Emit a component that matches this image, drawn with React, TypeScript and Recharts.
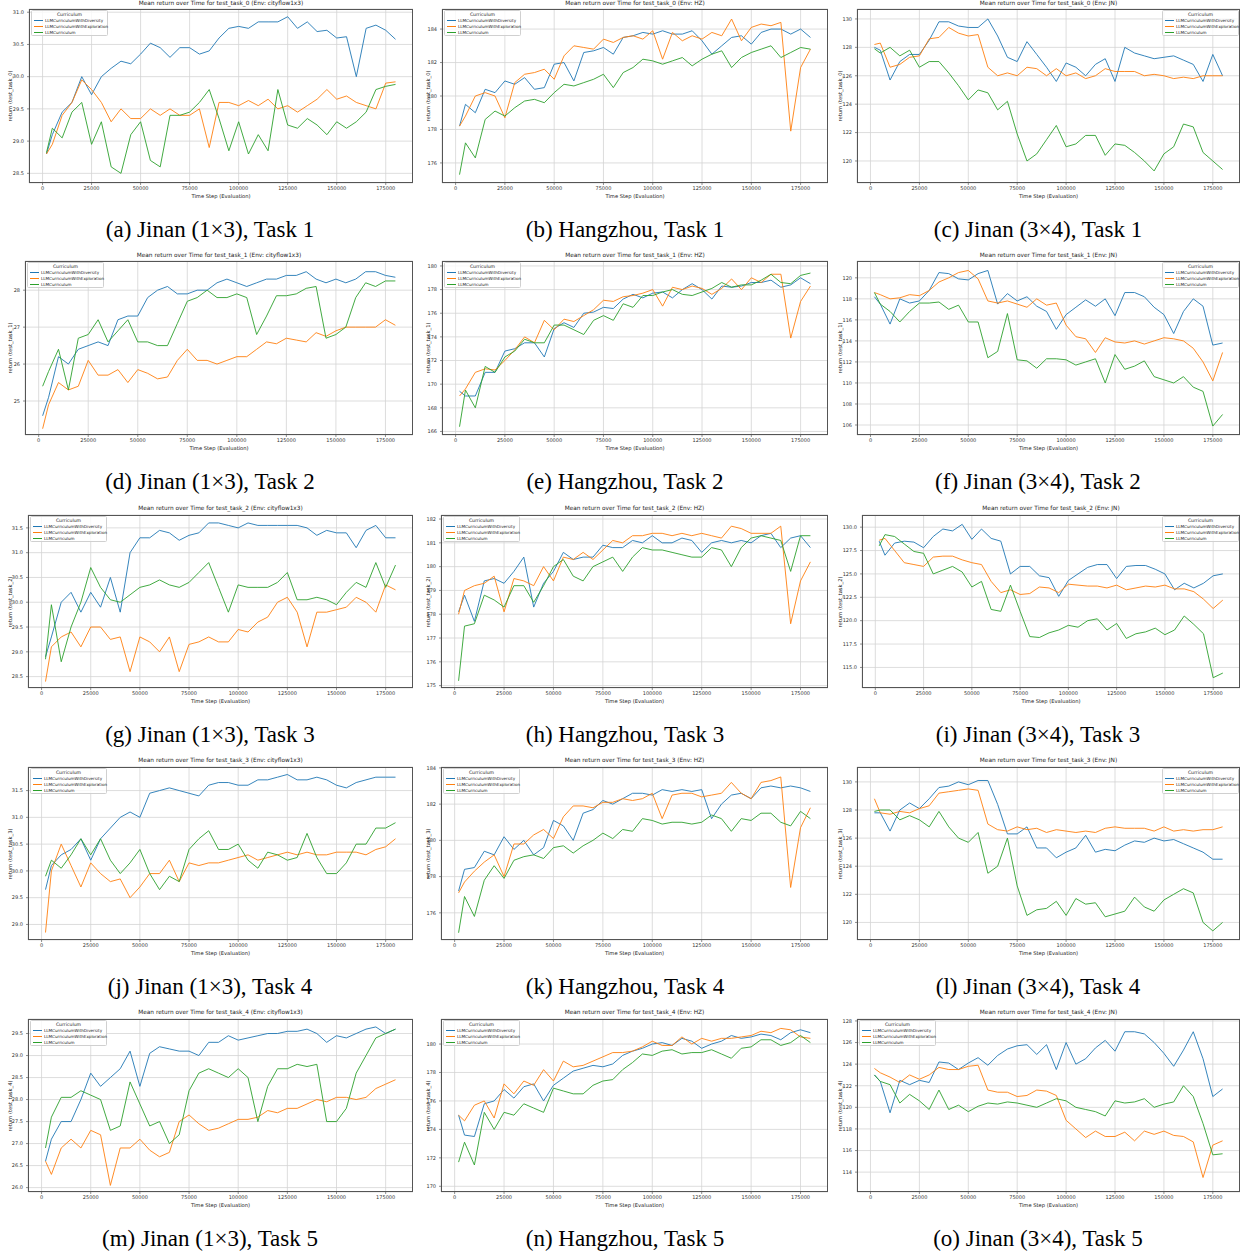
import React from 'react';
import { LineChart, Line, XAxis, YAxis, CartesianGrid } from 'recharts';

const steps = [2000, 5000, 10000, 15000, 20000, 25000, 30000, 35000, 40000, 45000, 50000, 55000, 60000, 65000, 70000, 75000, 80000, 85000, 90000, 95000, 100000, 105000, 110000, 115000, 120000, 125000, 130000, 135000, 140000, 145000, 150000, 155000, 160000, 165000, 170000, 175000, 180000];
const xTicks = [0, 25000, 50000, 75000, 100000, 125000, 150000, 175000];
const seriesNames = ['LLMCurriculumWithDiversity', 'LLMCurriculumWithExploration', 'LLMCurriculum'];
const seriesColors = ['#1f77b4', '#ff7f0e', '#2ca02c'];
const envNames = ['cityflow1x3', 'HZ', 'JN'];
const captions = [
  '(a) Jinan (1×3), Task 1', '(b) Hangzhou, Task 1', '(c) Jinan (3×4), Task 1',
  '(d) Jinan (1×3), Task 2', '(e) Hangzhou, Task 2', '(f) Jinan (3×4), Task 2',
  '(g) Jinan (1×3), Task 3', '(h) Hangzhou, Task 3', '(i) Jinan (3×4), Task 3',
  '(j) Jinan (1×3), Task 4', '(k) Hangzhou, Task 4', '(l) Jinan (3×4), Task 4',
  '(m) Jinan (1×3), Task 5', '(n) Hangzhou, Task 5', '(o) Jinan (3×4), Task 5',
];

// (a) Jinan 1x3 task 1
const aDiv = [28.8, 29.1, 29.45, 29.6, 30.0, 29.72, 30.0, 30.13, 30.24, 30.2, 30.35, 30.52, 30.45, 30.3, 30.45, 30.45, 30.35, 30.4, 30.6, 30.75, 30.78, 30.75, 30.85, 30.85, 30.85, 30.93, 30.75, 30.85, 30.7, 30.72, 30.6, 30.62, 30.0, 30.75, 30.8, 30.72, 30.58];
const aExp = [28.8, 28.95, 29.4, 29.6, 29.95, 29.8, 29.6, 29.3, 29.5, 29.35, 29.35, 29.5, 29.4, 29.5, 29.4, 29.4, 29.5, 28.9, 29.6, 29.6, 29.55, 29.63, 29.55, 29.65, 29.5, 29.55, 29.45, 29.55, 29.65, 29.8, 29.65, 29.7, 29.6, 29.55, 29.5, 29.9, 29.92];
const aCur = [28.82, 29.2, 29.05, 29.45, 29.6, 28.95, 29.3, 28.6, 28.5, 29.1, 29.3, 28.7, 28.6, 29.4, 29.4, 29.45, 29.6, 29.8, 29.35, 28.85, 29.3, 28.8, 29.1, 28.85, 29.8, 29.25, 29.2, 29.35, 29.25, 29.1, 29.3, 29.2, 29.3, 29.45, 29.8, 29.85, 29.88];
// (b) Hangzhou task 1
const bDiv = [178.2, 179.5, 179.0, 180.4, 180.2, 180.9, 180.7, 181.1, 180.4, 180.5, 181.9, 182.0, 180.9, 182.6, 182.7, 182.9, 182.5, 183.5, 183.6, 183.8, 183.7, 183.9, 183.7, 183.7, 183.9, 183.3, 182.5, 183.0, 183.5, 183.6, 183.1, 183.8, 184.0, 184.0, 183.7, 184.0, 183.5];
const bExp = [178.2, 178.8, 180.0, 180.2, 180.0, 178.7, 180.8, 181.3, 181.4, 181.6, 181.0, 182.4, 183.0, 182.9, 182.8, 183.4, 183.2, 183.5, 183.6, 183.4, 183.9, 182.2, 183.8, 183.3, 183.6, 183.4, 183.8, 183.6, 184.6, 183.3, 184.1, 184.3, 184.2, 184.4, 177.9, 181.7, 182.8];
const bCur = [175.3, 177.2, 176.3, 178.6, 179.1, 178.8, 179.3, 179.7, 179.8, 179.6, 180.2, 180.7, 180.6, 180.8, 181.0, 181.3, 180.5, 181.4, 181.7, 182.2, 182.1, 181.9, 182.1, 182.3, 181.8, 182.2, 182.5, 182.7, 181.7, 182.3, 182.6, 182.8, 183.0, 182.3, 182.6, 182.9, 182.8];
// (c) Jinan 3x4 task 1
const cDiv = [128.0, 127.8, 125.7, 127.0, 127.5, 127.5, 128.5, 129.8, 129.8, 129.5, 129.4, 129.4, 130.0, 128.8, 127.3, 127.0, 128.4, 127.5, 126.6, 125.6, 126.9, 126.6, 126.0, 126.8, 127.2, 125.6, 128.0, 127.6, 127.4, 127.2, 127.3, 127.4, 127.1, 126.8, 125.6, 127.5, 126.0];
const cExp = [128.2, 128.3, 126.6, 126.8, 127.3, 127.4, 128.6, 128.7, 129.4, 129.0, 128.8, 128.9, 126.6, 126.0, 126.2, 126.0, 126.6, 126.5, 126.0, 126.5, 126.0, 126.2, 125.8, 126.0, 126.5, 126.3, 126.3, 126.3, 126.0, 126.1, 126.0, 125.8, 125.9, 125.8, 126.0, 126.0, 126.0];
const cCur = [127.9, 127.6, 128.0, 127.4, 127.8, 126.6, 127.0, 127.0, 126.2, 125.3, 124.3, 125.0, 124.8, 123.6, 124.2, 121.9, 120.0, 120.5, 121.5, 122.5, 121.0, 121.2, 121.8, 121.8, 120.4, 121.2, 121.1, 120.6, 120.0, 119.3, 120.5, 121.0, 122.6, 122.4, 120.6, 120.0, 119.4];
// (d) Jinan 1x3 task 2
const dDiv = [24.6, 25.1, 26.2, 26.0, 26.4, 26.5, 26.6, 26.5, 27.2, 27.3, 27.3, 27.8, 28.0, 28.1, 27.9, 27.9, 28.0, 28.0, 28.2, 28.3, 28.2, 28.1, 28.2, 28.3, 28.3, 28.4, 28.4, 28.5, 28.3, 28.2, 28.3, 28.2, 28.3, 28.5, 28.5, 28.4, 28.35];
const dExp = [24.25, 24.9, 25.5, 25.3, 25.4, 26.1, 25.7, 25.7, 25.85, 25.5, 25.85, 25.75, 25.6, 25.65, 26.1, 26.4, 26.1, 26.1, 26.0, 26.1, 26.2, 26.2, 26.4, 26.6, 26.55, 26.7, 26.65, 26.6, 26.85, 26.75, 26.9, 27.0, 27.0, 27.0, 27.0, 27.2, 27.05];
const dCur = [25.4, 25.8, 26.4, 25.3, 26.7, 26.8, 27.2, 26.6, 26.9, 27.2, 26.6, 26.6, 26.5, 26.5, 27.1, 27.7, 27.8, 28.0, 27.8, 27.8, 27.9, 27.8, 26.8, 27.3, 27.85, 27.85, 27.9, 28.05, 28.1, 26.7, 26.8, 27.0, 27.8, 28.2, 28.1, 28.25, 28.25];
// (e) Hangzhou task 2
const eDiv = [169.4, 169.0, 169.0, 171.0, 171.0, 172.8, 173.0, 173.5, 173.5, 172.3, 174.7, 175.2, 174.8, 176.0, 176.1, 176.5, 176.4, 177.2, 177.6, 177.3, 177.7, 177.8, 177.3, 178.0, 178.5, 178.0, 177.2, 178.3, 178.2, 178.3, 178.6, 178.6, 178.8, 178.2, 178.4, 179.0, 178.5];
const eExp = [169.0, 169.6, 171.0, 171.3, 171.2, 172.0, 172.9, 174.0, 173.5, 175.4, 174.6, 175.5, 175.3, 175.8, 176.3, 177.1, 177.0, 177.4, 177.5, 177.7, 178.0, 176.6, 178.2, 178.0, 178.3, 178.1, 177.6, 178.1, 178.9, 178.0, 179.0, 178.6, 179.3, 179.3, 173.9, 177.0, 178.3];
const eCur = [166.4, 169.5, 168.0, 171.5, 171.0, 172.3, 172.8, 173.8, 173.5, 173.5, 175.0, 175.0, 174.6, 174.2, 175.4, 175.8, 175.4, 176.8, 176.5, 177.5, 177.5, 177.8, 178.0, 177.6, 177.5, 177.8, 178.1, 178.6, 178.2, 178.4, 178.4, 178.8, 179.3, 178.6, 178.5, 179.2, 179.4];
// (f) Jinan 3x4 task 2
const fDiv = [118.2, 117.5, 115.6, 118.0, 117.6, 117.8, 118.8, 120.5, 120.4, 119.9, 119.8, 120.4, 120.7, 117.5, 118.5, 117.8, 118.2, 117.3, 116.8, 115.1, 116.5, 117.2, 117.9, 117.3, 118.0, 116.4, 118.6, 118.6, 118.2, 117.2, 116.5, 114.7, 116.8, 118.0, 117.3, 113.6, 113.8];
const fExp = [118.6, 118.4, 118.0, 118.1, 118.4, 118.3, 118.8, 119.6, 120.0, 120.5, 120.7, 119.9, 117.8, 117.6, 117.8, 117.5, 117.2, 118.0, 117.4, 117.6, 115.5, 114.4, 114.2, 112.9, 114.3, 113.9, 113.8, 114.0, 113.7, 114.0, 114.3, 114.2, 114.0, 113.3, 112.0, 110.2, 112.9];
const fCur = [118.6, 117.5, 116.8, 115.8, 116.8, 117.6, 117.6, 117.7, 117.0, 117.4, 115.8, 115.8, 112.4, 113.0, 116.6, 112.2, 112.1, 111.4, 112.3, 112.3, 112.2, 111.7, 112.0, 112.3, 110.0, 112.7, 111.3, 111.6, 112.1, 110.6, 110.3, 110.0, 110.6, 109.6, 109.2, 105.9, 107.0];
// (g) Jinan 1x3 task 3
const gDiv = [28.9, 29.3, 30.0, 30.2, 29.8, 30.2, 29.9, 30.5, 29.8, 31.0, 31.3, 31.3, 31.45, 31.4, 31.25, 31.35, 31.4, 31.6, 31.6, 31.55, 31.5, 31.6, 31.55, 31.55, 31.55, 31.55, 31.55, 31.5, 31.35, 31.45, 31.4, 31.4, 31.1, 31.45, 31.55, 31.3, 31.3];
const gExp = [28.4, 29.1, 29.3, 29.4, 29.1, 29.5, 29.5, 29.25, 29.3, 28.6, 29.3, 29.2, 29.0, 29.3, 28.6, 29.15, 29.2, 29.3, 29.2, 29.2, 29.45, 29.4, 29.6, 29.7, 30.0, 30.1, 29.8, 29.1, 29.8, 29.8, 29.85, 29.9, 30.1, 30.0, 29.8, 30.35, 30.25];
const gCur = [28.85, 29.95, 28.8, 29.5, 30.0, 30.7, 30.3, 30.05, 30.0, 30.15, 30.3, 30.35, 30.45, 30.35, 30.3, 30.4, 30.6, 30.8, 30.3, 29.8, 30.35, 30.3, 30.3, 30.3, 30.4, 30.6, 30.05, 30.05, 30.1, 30.05, 29.95, 30.2, 30.4, 30.3, 30.8, 30.3, 30.75];
// (h) Hangzhou task 3
const hDiv = [178.1, 178.8, 177.7, 179.4, 179.5, 179.3, 179.8, 180.4, 178.3, 179.3, 179.8, 180.6, 180.3, 180.4, 180.4, 180.9, 180.8, 180.8, 181.1, 181.0, 181.3, 181.0, 181.0, 181.2, 181.1, 180.6, 181.0, 181.1, 181.0, 181.1, 181.0, 181.3, 181.4, 180.8, 181.2, 181.3, 180.8];
const hExp = [178.0, 179.0, 179.2, 179.3, 179.6, 178.1, 179.5, 179.4, 179.2, 180.0, 179.4, 180.4, 180.3, 180.6, 180.3, 180.7, 181.1, 181.0, 181.3, 181.3, 181.4, 181.4, 181.3, 181.4, 181.3, 181.4, 181.3, 181.2, 181.7, 181.6, 181.4, 181.4, 181.4, 181.7, 177.6, 179.4, 180.2];
const hCur = [175.2, 177.5, 177.6, 178.8, 178.6, 178.3, 179.2, 179.2, 178.5, 179.2, 180.0, 180.3, 179.6, 179.4, 180.0, 180.2, 180.4, 179.8, 180.4, 180.8, 180.7, 180.7, 180.6, 180.5, 180.4, 180.4, 180.8, 180.7, 180.0, 180.8, 181.2, 181.3, 181.2, 181.1, 179.8, 181.3, 181.3];
// (i) Jinan 3x4 task 3
const iDiv = [128.5, 127.0, 128.3, 128.5, 128.4, 127.8, 129.0, 129.8, 129.6, 130.3, 128.7, 129.8, 128.8, 128.5, 125.0, 125.8, 125.8, 124.8, 124.6, 122.6, 124.3, 125.0, 125.7, 126.0, 126.0, 124.5, 125.8, 125.9, 125.9, 125.5, 125.0, 123.3, 124.0, 123.5, 124.0, 124.8, 125.0];
const iExp = [128.6, 128.8, 127.5, 126.2, 126.0, 125.8, 126.8, 126.9, 126.9, 126.5, 126.2, 126.0, 124.2, 123.0, 123.3, 122.8, 122.9, 123.6, 123.5, 123.0, 123.9, 123.8, 123.7, 123.7, 123.5, 123.8, 123.3, 123.5, 123.7, 123.6, 123.8, 123.4, 123.4, 123.1, 122.3, 121.3, 122.2];
const iCur = [128.0, 129.2, 129.0, 128.2, 127.4, 127.2, 125.0, 125.4, 125.8, 125.2, 123.6, 124.2, 121.2, 121.0, 123.8, 121.0, 118.3, 118.2, 118.7, 119.0, 119.5, 119.3, 120.0, 120.2, 119.0, 119.7, 118.1, 118.6, 118.8, 119.2, 118.5, 119.0, 120.5, 119.6, 118.6, 113.9, 114.4];
// (j) Jinan 1x3 task 4
const jDiv = [29.65, 30.1, 30.3, 30.4, 30.6, 30.2, 30.6, 30.8, 31.0, 31.1, 31.0, 31.45, 31.5, 31.55, 31.5, 31.45, 31.4, 31.6, 31.65, 31.65, 31.6, 31.6, 31.7, 31.7, 31.75, 31.8, 31.7, 31.7, 31.75, 31.7, 31.6, 31.55, 31.65, 31.7, 31.75, 31.75, 31.75];
const jExp = [28.85, 30.0, 30.5, 30.1, 29.7, 30.15, 29.95, 29.8, 29.85, 29.5, 29.7, 29.95, 29.95, 30.2, 29.8, 30.15, 30.1, 30.15, 30.15, 30.2, 30.25, 30.3, 30.2, 30.25, 30.3, 30.35, 30.3, 30.35, 30.3, 30.3, 30.35, 30.35, 30.35, 30.3, 30.4, 30.45, 30.6];
const jCur = [29.9, 30.2, 30.05, 30.3, 30.6, 30.3, 30.6, 30.2, 29.95, 30.15, 30.4, 29.95, 29.65, 29.9, 29.8, 30.4, 30.6, 30.75, 30.4, 30.4, 30.5, 30.2, 30.05, 30.35, 30.3, 30.2, 30.25, 30.7, 30.25, 29.95, 29.95, 30.15, 30.5, 30.5, 30.8, 30.8, 30.9];
// (k) Hangzhou task 4
const kDiv = [177.2, 178.4, 178.5, 179.4, 179.2, 180.2, 179.5, 180.0, 179.2, 179.6, 181.1, 180.8, 180.0, 181.5, 181.7, 182.2, 182.0, 182.3, 182.6, 182.6, 182.5, 182.8, 182.7, 182.8, 182.7, 182.8, 181.2, 182.0, 182.5, 182.6, 182.3, 182.9, 183.0, 182.9, 183.0, 182.9, 182.7];
const kExp = [177.1, 177.7, 178.3, 178.8, 179.2, 178.0, 179.8, 179.8, 180.3, 180.6, 180.1, 181.3, 181.9, 181.9, 181.8, 182.1, 182.1, 182.3, 182.2, 182.3, 182.6, 181.2, 182.5, 182.6, 182.6, 182.4, 182.5, 182.6, 183.2, 182.6, 182.3, 183.2, 183.3, 183.5, 177.4, 180.7, 181.8];
const kCur = [174.9, 176.9, 175.8, 177.8, 178.6, 177.9, 178.9, 179.1, 179.2, 179.0, 179.6, 179.7, 179.3, 179.7, 180.0, 180.4, 180.1, 180.6, 180.5, 181.2, 181.1, 180.9, 181.0, 181.0, 180.9, 181.0, 181.4, 181.2, 180.5, 181.2, 181.1, 181.5, 181.5, 181.0, 180.8, 181.6, 181.2];
// (l) Jinan 3x4 task 4
const lDiv = [127.8, 127.8, 126.5, 128.0, 128.5, 128.1, 128.8, 129.6, 129.7, 130.0, 129.8, 130.1, 130.1, 128.4, 126.3, 126.3, 126.8, 125.3, 125.3, 124.6, 125.0, 125.3, 126.2, 125.0, 125.2, 125.1, 125.5, 125.8, 125.7, 126.0, 125.8, 125.9, 125.6, 125.3, 125.0, 124.5, 124.5];
const lExp = [128.8, 127.8, 127.7, 127.9, 127.8, 128.1, 128.3, 129.2, 129.3, 129.4, 129.5, 129.4, 127.0, 126.6, 126.5, 126.8, 126.6, 126.7, 126.4, 126.6, 126.5, 126.4, 126.5, 126.4, 126.7, 126.8, 126.7, 126.7, 126.7, 126.5, 126.8, 126.5, 126.6, 126.5, 126.6, 126.6, 126.8];
const lCur = [127.9, 128.0, 128.0, 127.3, 127.6, 127.3, 126.8, 127.9, 126.8, 126.0, 125.7, 126.4, 123.5, 124.0, 126.0, 122.6, 120.5, 120.9, 121.0, 121.5, 120.5, 121.7, 121.3, 121.4, 120.4, 120.6, 120.8, 121.8, 121.1, 120.8, 121.6, 122.0, 122.4, 122.1, 120.0, 119.4, 120.0];
// (m) Jinan 1x3 task 5
const mDiv = [26.6, 27.1, 27.5, 27.5, 28.0, 28.6, 28.3, 28.5, 28.7, 29.1, 28.3, 29.05, 29.2, 29.15, 29.1, 29.1, 29.0, 29.3, 29.3, 29.45, 29.35, 29.4, 29.45, 29.5, 29.5, 29.55, 29.55, 29.6, 29.5, 29.3, 29.45, 29.4, 29.5, 29.6, 29.65, 29.5, 29.6];
const mExp = [26.6, 26.3, 26.9, 27.1, 26.9, 27.3, 27.2, 26.05, 26.9, 26.9, 27.1, 26.85, 26.7, 26.8, 27.5, 27.65, 27.45, 27.3, 27.35, 27.45, 27.55, 27.55, 27.6, 27.75, 27.7, 27.8, 27.8, 27.9, 28.0, 27.95, 28.05, 28.05, 28.0, 28.05, 28.25, 28.35, 28.45];
const mCur = [26.9, 27.6, 28.05, 28.05, 28.2, 28.1, 28.0, 27.3, 27.4, 28.4, 27.9, 27.4, 27.5, 27.0, 27.2, 28.2, 28.6, 28.7, 28.6, 28.5, 28.7, 28.5, 27.5, 28.3, 28.7, 28.7, 28.8, 28.75, 28.8, 27.5, 27.5, 27.8, 28.6, 29.0, 29.4, 29.5, 29.6];
// (n) Hangzhou task 5
const nDiv = [175.0, 173.6, 173.5, 175.8, 176.0, 176.8, 176.2, 177.0, 177.2, 176.0, 177.1, 177.6, 178.1, 178.3, 178.5, 178.4, 178.6, 179.2, 179.5, 179.7, 180.0, 180.1, 179.9, 180.4, 180.2, 179.7, 180.0, 180.2, 180.6, 180.4, 180.5, 180.7, 180.6, 180.3, 180.8, 181.0, 180.8];
const nExp = [175.0, 174.6, 175.7, 176.0, 174.8, 177.2, 176.5, 177.4, 177.1, 178.2, 177.4, 178.8, 178.4, 178.5, 178.8, 179.1, 179.4, 179.4, 179.5, 179.8, 180.2, 179.9, 179.9, 180.5, 180.0, 180.4, 180.2, 180.4, 180.4, 180.5, 180.6, 180.9, 180.8, 181.1, 181.0, 180.5, 180.4];
const nCur = [171.7, 173.1, 171.5, 175.2, 174.0, 175.2, 175.0, 175.8, 175.5, 175.2, 176.9, 176.7, 176.5, 176.5, 177.1, 177.4, 177.5, 178.2, 178.7, 179.3, 179.2, 179.5, 179.6, 179.3, 179.4, 179.4, 179.6, 179.3, 179.0, 179.7, 179.8, 180.3, 180.3, 179.9, 180.1, 180.6, 180.1];
// (o) Jinan 3x4 task 5
const oDiv = [123.0, 122.4, 119.5, 122.5, 122.1, 122.5, 122.3, 124.2, 124.1, 123.5, 124.1, 124.6, 123.9, 124.8, 125.4, 125.7, 125.8, 124.9, 125.8, 123.5, 126.0, 124.0, 124.5, 125.5, 126.2, 125.2, 127.0, 127.0, 126.8, 126.0, 125.0, 123.8, 125.3, 127.0, 124.5, 121.0, 121.7];
const oExp = [123.6, 123.2, 122.8, 122.3, 123.0, 122.6, 123.0, 123.7, 123.5, 123.5, 123.8, 123.9, 121.6, 121.4, 121.4, 121.0, 121.1, 121.6, 121.5, 121.1, 118.8, 118.0, 117.2, 117.8, 117.3, 117.3, 117.7, 116.9, 117.8, 117.5, 117.8, 117.4, 117.3, 116.8, 113.5, 116.5, 116.9];
const oCur = [123.0, 122.4, 122.1, 120.4, 121.2, 120.6, 119.8, 121.6, 119.8, 120.2, 119.6, 120.1, 120.4, 120.3, 120.5, 120.4, 120.2, 120.0, 120.4, 120.8, 120.6, 120.0, 119.8, 119.6, 119.2, 120.6, 120.4, 120.5, 120.8, 120.0, 120.3, 120.5, 122.0, 121.0, 118.5, 115.6, 115.7];

// y axis ticks per panel
const aTicks = [28.5, 29.0, 29.5, 30.0, 30.5, 31.0];
const bTicks = [176, 178, 180, 182, 184];
const cTicks = [120, 122, 124, 126, 128, 130];
const dTicks = [25, 26, 27, 28];
const eTicks = [166, 168, 170, 172, 174, 176, 178, 180];
const fTicks = [106, 108, 110, 112, 114, 116, 118, 120];
const gTicks = [28.5, 29.0, 29.5, 30.0, 30.5, 31.0, 31.5];
const hTicks = [175, 176, 177, 178, 179, 180, 181, 182];
const iTicks = [115.0, 117.5, 120.0, 122.5, 125.0, 127.5, 130.0];
const jTicks = [29.0, 29.5, 30.0, 30.5, 31.0, 31.5];
const kTicks = [176, 178, 180, 182, 184];
const lTicks = [120, 122, 124, 126, 128, 130];
const mTicks = [26.0, 26.5, 27.0, 27.5, 28.0, 28.5, 29.0, 29.5];
const nTicks = [170, 172, 174, 176, 178, 180];
const oTicks = [114, 116, 118, 120, 122, 124, 126, 128];

const panels = [
  { s: [aDiv, aExp, aCur], ticks: aTicks, domain: [28.35, 31.05], dec: 1, legendRight: false, plotLeft: 29 },
  { s: [bDiv, bExp, bCur], ticks: bTicks, domain: [174.8, 185.2], dec: 0, legendRight: false, plotLeft: 27 },
  { s: [cDiv, cExp, cCur], ticks: cTicks, domain: [118.45, 130.7], dec: 0, legendRight: true, plotLeft: 29 },
  { s: [dDiv, dExp, dCur], ticks: dTicks, domain: [24.08, 28.79], dec: 0, legendRight: false, plotLeft: 25 },
  { s: [eDiv, eExp, eCur], ticks: eTicks, domain: [165.7, 180.42], dec: 0, legendRight: false, plotLeft: 27 },
  { s: [fDiv, fExp, fCur], ticks: fTicks, domain: [105.05, 121.6], dec: 0, legendRight: true, plotLeft: 29 },
  { s: [gDiv, gExp, gCur], ticks: gTicks, domain: [28.27, 31.76], dec: 1, legendRight: false, plotLeft: 28 },
  { s: [hDiv, hExp, hCur], ticks: hTicks, domain: [174.9, 182.17], dec: 0, legendRight: false, plotLeft: 26 },
  { s: [iDiv, iExp, iCur], ticks: iTicks, domain: [112.8, 131.3], dec: 1, legendRight: true, plotLeft: 34 },
  { s: [jDiv, jExp, jCur], ticks: jTicks, domain: [28.71, 31.94], dec: 1, legendRight: false, plotLeft: 28 },
  { s: [kDiv, kExp, kCur], ticks: kTicks, domain: [174.5, 184.05], dec: 0, legendRight: false, plotLeft: 26 },
  { s: [lDiv, lExp, lCur], ticks: lTicks, domain: [118.75, 131.06], dec: 0, legendRight: true, plotLeft: 29 },
  { s: [mDiv, mExp, mCur], ticks: mTicks, domain: [25.9, 29.83], dec: 1, legendRight: false, plotLeft: 28 },
  { s: [nDiv, nExp, nCur], ticks: nTicks, domain: [169.6, 181.76], dec: 0, legendRight: false, plotLeft: 26 },
  { s: [oDiv, oExp, oCur], ticks: oTicks, domain: [112.16, 128.18], dec: 0, legendRight: false, plotLeft: 29 },
];

const PANEL_LEFT = [0, 415, 828];
const ROW_TOP = [0, 252, 505, 757, 1009];
const YLABEL_X = [9.5, 12.5, 11.5];
const FONT = '"DejaVu Sans", sans-serif';
const CHART_H = 205;
const PLOT_BOTTOM = 183;

function LegendBox({ left, top }: { left: number; top: number }) {
  return (
    <div style={{ position: 'absolute', left, top, width: 77, height: 26, border: '0.8px solid #d0d0d0', borderRadius: 1.5, background: 'rgba(255,255,255,0.8)', boxSizing: 'border-box', fontFamily: FONT }}>
      <div style={{ position: 'absolute', left: 0, width: '100%', top: 1.2, textAlign: 'center', fontSize: 4.6, lineHeight: '5px', color: '#222' }}>Curriculum</div>
      {seriesNames.map((n, k) => (
        <div key={n} style={{ position: 'absolute', left: 0, top: 7.2 + k * 6, height: 5 }}>
          <div style={{ position: 'absolute', left: 2, top: 2.2, width: 9, height: 0.9, background: seriesColors[k] }} />
          <div style={{ position: 'absolute', left: 13, top: 0, fontSize: 4.1, lineHeight: '5px', whiteSpace: 'nowrap', color: '#222' }}>{n}</div>
        </div>
      ))}
    </div>
  );
}

function Panel({ idx }: { idx: number }) {
  const p = panels[idx];
  const row = Math.floor(idx / 3);
  const col = idx % 3;
  const plotTop = row < 2 ? 9 : 10;
  const plotRight = col === 2 ? 412 : 413;
  const plotLeft = p.plotLeft;
  const plotCx = (plotLeft + plotRight) / 2;
  const plotCy = (plotTop + PLOT_BOTTOM) / 2;
  const data = steps.map((st, i) => ({ step: st, div: p.s[0][i], exp: p.s[1][i], cur: p.s[2][i] }));
  const tickStyle = { fontSize: 5, fill: '#333', fontFamily: FONT };
  const keys = ['div', 'exp', 'cur'];
  return (
    <div style={{ position: 'absolute', left: PANEL_LEFT[col], top: ROW_TOP[row], width: 414, height: 250 }}>
      <div style={{ position: 'absolute', left: 0, top: 0 }}>
        <LineChart width={plotRight} height={CHART_H} data={data} margin={{ top: plotTop, right: 0, bottom: 0, left: 0 }}>
          <CartesianGrid stroke="#d4d4d4" strokeWidth={0.8} />
          <XAxis type="number" dataKey="step" domain={[-6900, 188900]} ticks={xTicks} interval={0} height={CHART_H - PLOT_BOTTOM} tickSize={2} tickMargin={1.5} axisLine={false} tickLine={{ stroke: '#444', strokeWidth: 0.6 }} tick={tickStyle} allowDataOverflow />
          <YAxis type="number" domain={p.domain} ticks={p.ticks} interval={0} width={plotLeft} tickSize={2} tickMargin={3} axisLine={false} tickLine={{ stroke: '#444', strokeWidth: 0.6 }} tick={tickStyle} tickFormatter={(v: number) => v.toFixed(p.dec)} allowDataOverflow />
          {keys.map((k, j) => (
            <Line key={k} type="linear" dataKey={k} name={seriesNames[j]} stroke={seriesColors[j]} strokeWidth={0.9} dot={false} activeDot={false} isAnimationActive={false} />
          ))}
        </LineChart>
      </div>
      <div style={{ position: 'absolute', left: plotLeft, top: plotTop, width: plotRight - plotLeft, height: PLOT_BOTTOM - plotTop, border: '0.8px solid #555', boxSizing: 'border-box', pointerEvents: 'none' }} />
      <div style={{ position: 'absolute', left: plotCx - 150, width: 300, top: 0.2, textAlign: 'center', fontSize: 5.8, lineHeight: '6.5px', fontFamily: FONT, color: '#222', whiteSpace: 'nowrap' }}>
        {`Mean return over Time for test_task_${row} (Env: ${envNames[col]})`}
      </div>
      <div style={{ position: 'absolute', left: plotCx - 100, width: 200, top: 193.2, textAlign: 'center', fontSize: 5.2, lineHeight: '6px', fontFamily: FONT, color: '#222' }}>Time Step (Evaluation)</div>
      <div style={{ position: 'absolute', left: YLABEL_X[col] - 50, top: plotCy - 3, width: 100, height: 6, textAlign: 'center', fontSize: 5.2, lineHeight: '6px', fontFamily: FONT, color: '#222', transform: 'rotate(-90deg)', whiteSpace: 'nowrap' }}>
        {`return (test_task_${row})`}
      </div>
      <LegendBox left={p.legendRight ? plotRight - 78 : plotLeft + 2} top={plotTop + 1} />
      <div style={{ position: 'absolute', left: 210 - 200, width: 400, top: 218, textAlign: 'center', fontSize: 23, lineHeight: '23px', fontFamily: '"Liberation Serif", "Times New Roman", serif', color: '#000', whiteSpace: 'nowrap' }}>
        {captions[idx]}
      </div>
    </div>
  );
}

export default function App() {
  return (
    <div style={{ position: 'absolute', left: 0, top: 0, width: 1241, height: 1258, background: '#fff', overflow: 'hidden' }}>
      {panels.map((_, i) => (
        <Panel key={i} idx={i} />
      ))}
    </div>
  );
}
